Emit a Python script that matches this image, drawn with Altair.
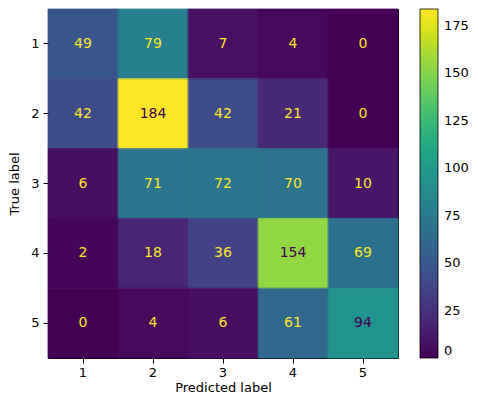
import altair as alt
import pandas as pd

labels = ["1", "2", "3", "4", "5"]
matrix = [
    [49, 79, 7, 4, 0],
    [42, 184, 42, 21, 0],
    [6, 71, 72, 70, 10],
    [2, 18, 36, 154, 69],
    [0, 4, 6, 61, 94],
]
cbar_ticks = [0, 25, 50, 75, 100, 125, 150, 175]
vmax = max(max(r) for r in matrix)
thresh = vmax / 2.0

rows = []
for i, t in enumerate(labels):
    for j, p in enumerate(labels):
        v = matrix[i][j]
        rows.append({"true": t, "pred": p, "count": v, "edge": v, "dark": v >= thresh})
df = pd.DataFrame(rows)

font = "DejaVu Sans"
fs = 13
W, H = 350, 349
base = alt.Chart(df)
xenc = alt.X("pred:O", sort=labels, title="Predicted label",
             axis=alt.Axis(labelAngle=0, ticks=True, tickSize=5, tickColor="black",
                           domain=False, labelFontSize=fs, titleFontSize=fs,
                           labelFont=font, titleFont=font, labelColor="black",
                           titleColor="black", titleFontWeight="normal", labelPadding=3,
                           titlePadding=2))
yenc = alt.Y("true:O", sort=labels, title="True label",
             axis=alt.Axis(ticks=True, tickSize=5, tickColor="black", domain=False,
                           labelFontSize=fs, titleFontSize=fs, labelFont=font,
                           titleFont=font, labelColor="black", titleColor="black",
                           titleFontWeight="normal", labelPadding=4, titlePadding=9))

heat = base.mark_rect(strokeWidth=0).encode(
    x=xenc,
    y=yenc,
    color=alt.Color("count:Q",
                    scale=alt.Scale(scheme="viridis", domain=[0, vmax], nice=False),
                    legend=alt.Legend(title=None, type="gradient", direction="vertical",
                                      gradientLength=H, gradientThickness=18,
                                      values=cbar_ticks,
                                      labelFontSize=fs, labelFont=font, labelColor="black",
                                      gradientStrokeColor="black", gradientStrokeWidth=0.8,
                                      offset=22, labelOffset=6, padding=0)),
)

edges = base.mark_rect(filled=False, strokeWidth=0.8).encode(
    x=alt.X("pred:O", sort=labels),
    y=alt.Y("true:O", sort=labels),
    color=alt.Color("edge:Q",
                    scale=alt.Scale(scheme="viridis", domain=[0, vmax], nice=False),
                    legend=None),
)

text = base.mark_text(fontSize=14, font=font).encode(
    x=alt.X("pred:O", sort=labels),
    y=alt.Y("true:O", sort=labels),
    text="count:Q",
    color=alt.condition(alt.datum.dark, alt.value("#440154"), alt.value("#fde725")),
)

chart = alt.layer(heat, edges, text).resolve_scale(color="independent").properties(
    width=W, height=H,
    padding={"left": 0, "top": 0, "right": 0, "bottom": 0},
).configure_view(
    stroke="black", strokeWidth=1
).configure_scale(bandPaddingInner=0, bandPaddingOuter=0)

chart.save("out.html", embed_options={"renderer": "svg", "actions": False})
